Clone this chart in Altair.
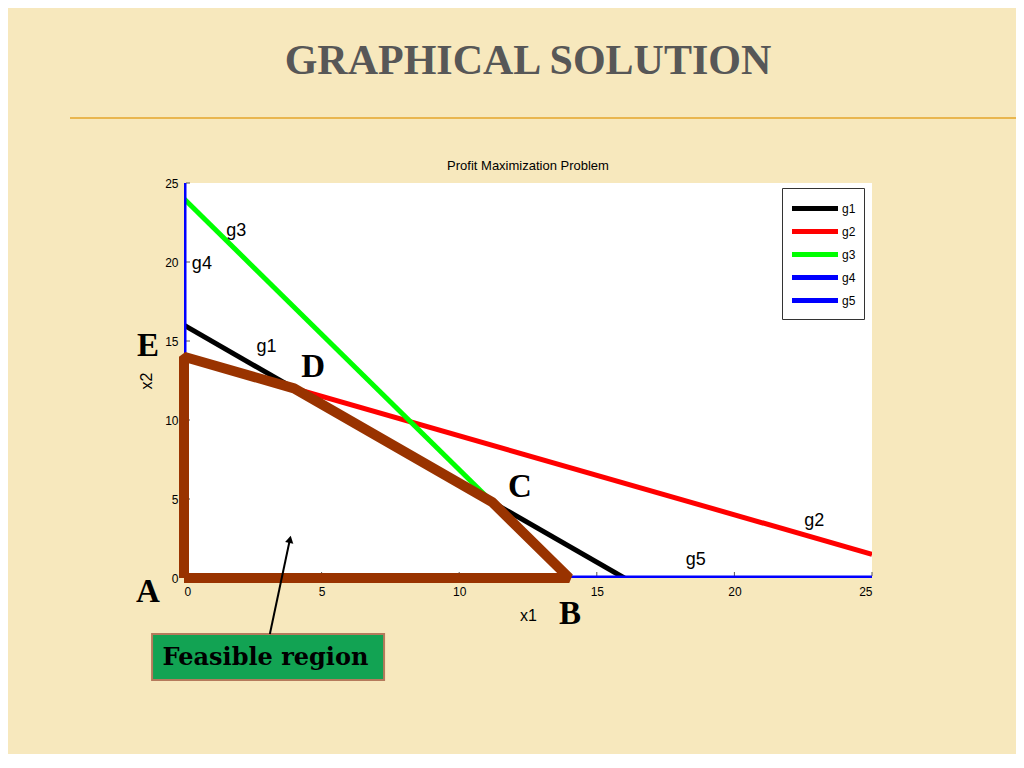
import altair as alt
import pandas as pd

# constraint lines (two end points each)
series = ["g1", "g1", "g2", "g2", "g3", "g3", "g4", "g4", "g5", "g5"]
line_x1 = [0, 16, 0, 25, 0, 14, 0, 0, 0, 25]
line_x2 = [16, 0, 14, 1.5, 24, 0, 0, 25, 0, 0]
series_order = [1, 1, 2, 2, 3, 3, 4, 4, 5, 5]
series_names = ["g1", "g2", "g3", "g4", "g5"]
series_colors = ["#000000", "#ff0000", "#00ff00", "#0000ff", "#0000ff"]

# feasible region vertices A-B-C-D-E-A
poly_x1 = [0, 14, 11.2, 4, 0, 0]
poly_x2 = [0, 0, 4.8, 12, 14, 0]
poly_order = [0, 1, 2, 3, 4, 5]

# axis tick values
tick_values = [0, 5, 10, 15, 20, 25]

# line labels
lab_text = ["g1", "g2", "g3", "g4", "g5"]
lab_x1 = [3.0, 22.9, 1.9, 0.65, 18.6]
lab_x2 = [14.6, 3.6, 21.95, 19.9, 1.15]

# corner letters
pt_text = ["A", "B", "C", "D", "E"]
pt_x1 = [-1.31, 14.03, 12.21, 4.69, -1.31]
pt_x2 = [-0.89, -2.28, 5.76, 13.35, 14.68]

# "Feasible region" call-out
box_x1 = [-1.16]
box_x1b = [7.27]
box_x2 = [-3.54]
box_x2b = [-6.46]
box_label = ["Feasible region"]
box_lx1 = [2.96]
box_lx2 = [-5.05]
arrow_x1 = [3.12]
arrow_x1b = [3.85]
arrow_x2 = [-3.54]
arrow_x2b = [2.45]

lines = pd.DataFrame({"series": series, "x1": line_x1, "x2": line_x2, "o": series_order})
poly = pd.DataFrame({"x1": poly_x1, "x2": poly_x2, "o": poly_order})
ticks = pd.DataFrame({"v": tick_values})
labs = pd.DataFrame({"t": lab_text, "x1": lab_x1, "x2": lab_x2})
pts = pd.DataFrame({"t": pt_text, "x1": pt_x1, "x2": pt_x2})
box = pd.DataFrame({"a": box_x1, "b": box_x1b, "c": box_x2, "d": box_x2b})
boxlab = pd.DataFrame({"t": box_label, "x1": box_lx1, "x2": box_lx2})
arrow = pd.DataFrame({"a": arrow_x1, "b": arrow_x1b, "c": arrow_x2, "d": arrow_x2b})

xs = alt.Scale(domain=[0, 25], nice=False, zero=False)
ys = alt.Scale(domain=[0, 25], nice=False, zero=False)
xax = alt.Axis(values=tick_values, title="x1", ticks=False, domain=False,
               labelPadding=8, titlePadding=10, grid=False)
yax = alt.Axis(values=tick_values, title="x2", ticks=False, domain=False,
               labelPadding=6, titlePadding=10, grid=False)

X = lambda f: alt.X(f, type="quantitative", scale=xs, axis=xax)
Y = lambda f: alt.Y(f, type="quantitative", scale=ys, axis=yax)

color = alt.Color("series:N", scale=alt.Scale(domain=series_names, range=series_colors),
                  legend=alt.Legend(title=None, orient="none", legendX=598, legendY=5,
                                    symbolType="M-1.05,0H3.55", symbolSize=400, symbolStrokeWidth=5,
                                    rowPadding=-1, labelFontSize=12, labelOffset=27,
                                    labelFont="Liberation Sans", labelColor="#000000",
                                    strokeColor="#333333", fillColor="#ffffff",
                                    padding=8))

# small inward ticks (Matlab style)
xtick_layer = alt.Chart(ticks).mark_rule(color="#555555", strokeWidth=1).encode(
    x=X("v"), y=alt.value(389), y2=alt.value(393))
ytick_layer = alt.Chart(ticks).mark_rule(color="#555555", strokeWidth=1).encode(
    y=Y("v"), x=alt.value(2), x2=alt.value(6))

line_layer = alt.Chart(lines).mark_line(strokeWidth=5, clip=True).encode(
    x=X("x1"), y=Y("x2"), color=color, detail="series:N", order="o:Q")

poly_layer = alt.Chart(poly).mark_line(strokeWidth=10, color="#993300", strokeJoin="bevel",
                                       strokeCap="butt").encode(
    x=X("x1"), y=Y("x2"), order="o:Q")

lab_layer = alt.Chart(labs).mark_text(fontSize=18, font="Liberation Sans", color="#000000").encode(
    x=X("x1"), y=Y("x2"), text="t:N")

pt_layer = alt.Chart(pts).mark_text(fontSize=33, font="Liberation Serif", fontWeight="bold",
                                    color="#000000").encode(
    x=X("x1"), y=Y("x2"), text="t:N")

box_layer = alt.Chart(box).mark_rect(fill="#12a353", stroke="#b57a5c", strokeWidth=2).encode(
    x=X("a"), x2="b", y=Y("c"), y2="d")

boxlab_layer = alt.Chart(boxlab).mark_text(fontSize=24, font="DejaVu Serif", fontWeight="bold",
                                           color="#000000").encode(
    x=X("x1"), y=Y("x2"), text="t:N")

arrow_line = alt.Chart(arrow).mark_rule(strokeWidth=2, color="#000000").encode(
    x=X("a"), x2="b", y=Y("c"), y2="d")
arrow_head = alt.Chart(arrow).mark_point(shape="triangle-up", angle=12, size=70, filled=True,
                                         color="#000000", opacity=1).encode(
    x=X("b"), y=Y("d"))

deco = alt.Chart(poly).mark_rule(color="#e9b64f", strokeWidth=2).encode(
    x=alt.value(-114), x2=alt.value(840), y=alt.value(-65))

chart = alt.layer(
    xtick_layer, ytick_layer,
    line_layer, poly_layer, lab_layer, pt_layer, box_layer, boxlab_layer,
    arrow_line, arrow_head, deco
).properties(
    width=688, height=395,
    title=alt.TitleParams(
        text="GRAPHICAL SOLUTION", subtitle="Profit Maximization Problem",
        font="Liberation Serif", fontSize=42, fontWeight="bold", color="#575757",
        subtitleFont="Liberation Sans", subtitleFontSize=13, subtitleColor="#000000",
        subtitlePadding=77, offset=-57, anchor="middle"),
    autosize=alt.AutoSizeParams(type="none"),
    padding={"left": 176, "top": 175, "right": 144, "bottom": 176},
    background="#f7e8bd",
).configure_view(fill="#ffffff", stroke=None).configure_axis(
    labelFont="Liberation Sans", labelFontSize=12, labelColor="#000000",
    titleFont="Liberation Sans", titleFontSize=16, titleFontWeight="normal", titleColor="#000000"
)

chart.save("out.html", embed_options={"renderer": "svg", "actions": False})
